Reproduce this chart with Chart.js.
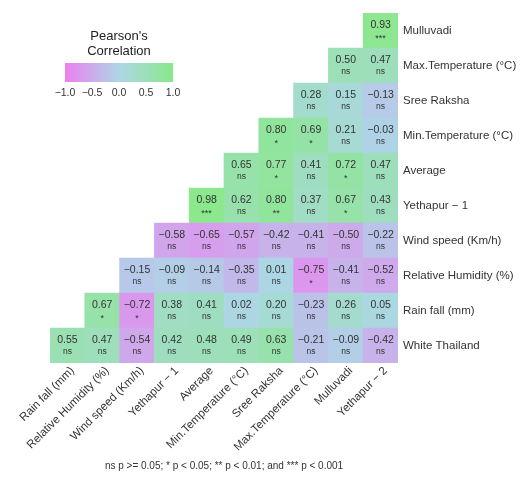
<!DOCTYPE html>
<html>
<head>
<meta charset="utf-8">
<script src="https://cdn.jsdelivr.net/npm/chart.js@4.4.0/dist/chart.umd.min.js"></script>
<style>
  body { margin: 0; background: #fff; font-family: "Liberation Sans", Arial, sans-serif; }
  #wrap { position: relative; width: 525px; height: 480px; }
  #legende { position: absolute; left: 0; top: 0; width: 240px; height: 110px; color: #222; }
  #legende .titre { position: absolute; left: 65px; width: 108px; top: 28px; text-align: center; font-size: 13px; line-height: 15px; }
  #legende .barre { position: absolute; left: 65px; top: 63px; width: 108px; height: 19px; }
  #legende .tick { position: absolute; top: 86px; font-size: 10.5px; transform: translateX(-50%); color: #333; }
</style>
</head>
<body>
<div id="wrap">
  <canvas id="myChart" width="525" height="480"></canvas>
  <div id="legende">
    <div class="titre">Pearson's<br>Correlation</div>
    <div class="barre" id="barre"></div>
  </div>
</div>
<script>
// colonnes (axe x) et lignes (axe y, du bas vers le haut)
var colonnes = ['Rain fall (mm)', 'Relative Humidity (%)', 'Wind speed (Km/h)', 'Yethapur \u2212 1', 'Average',
    'Min.Temperature (\u00b0C)', 'Sree Raksha', 'Max.Temperature (\u00b0C)', 'Mulluvadi', 'Yethapur \u2212 2'];
var lignes = ['White Thailand', 'Rain fall (mm)', 'Relative Humidity (%)', 'Wind speed (Km/h)', 'Yethapur \u2212 1',
    'Average', 'Min.Temperature (\u00b0C)', 'Sree Raksha', 'Max.Temperature (\u00b0C)', 'Mulluvadi'];

// valeurs de chaque ligne, a partir de la colonne d'indice = indice de ligne
var whiteThailand = [0.55, 0.47, -0.54, 0.42, 0.48, 0.49, 0.63, -0.21, -0.09, -0.42];
var rainFall      = [0.67, -0.72, 0.38, 0.41, 0.02, 0.20, -0.23, 0.26, 0.05];
var humidity      = [-0.15, -0.09, -0.14, -0.35, 0.01, -0.75, -0.41, -0.52];
var windSpeed     = [-0.58, -0.65, -0.57, -0.42, -0.41, -0.50, -0.22];
var yethapur1     = [0.98, 0.62, 0.80, 0.37, 0.67, 0.43];
var average       = [0.65, 0.77, 0.41, 0.72, 0.47];
var minTemp       = [0.80, 0.69, 0.21, -0.03];
var sreeRaksha    = [0.28, 0.15, -0.13];
var maxTemp       = [0.50, 0.47];
var mulluvadi     = [0.93];

var sigWhite   = ['ns', 'ns', 'ns', 'ns', 'ns', 'ns', 'ns', 'ns', 'ns', 'ns'];
var sigRain    = ['*', '*', 'ns', 'ns', 'ns', 'ns', 'ns', 'ns', 'ns'];
var sigHum     = ['ns', 'ns', 'ns', 'ns', 'ns', '*', 'ns', 'ns'];
var sigWind    = ['ns', 'ns', 'ns', 'ns', 'ns', 'ns', 'ns'];
var sigYeth1   = ['***', 'ns', '**', 'ns', '*', 'ns'];
var sigAverage = ['ns', '*', 'ns', '*', 'ns'];
var sigMinT    = ['*', '*', 'ns', 'ns'];
var sigSree    = ['ns', 'ns', 'ns'];
var sigMaxT    = ['ns', 'ns'];
var sigMullu   = ['***'];

var valeurs = [whiteThailand, rainFall, humidity, windSpeed, yethapur1, average, minTemp, sreeRaksha, maxTemp, mulluvadi];
var signif = [sigWhite, sigRain, sigHum, sigWind, sigYeth1, sigAverage, sigMinT, sigSree, sigMaxT, sigMullu];

var legendeTicks = [-1.0, -0.5, 0.0, 0.5, 1.0];
var footnote = 'ns p >= 0.05; * p < 0.05; ** p < 0.01; and *** p < 0.001';

var bas = [236, 128, 240];    // violet
var milieu = [173, 214, 230]; // lightblue
var haut = [138, 232, 138];   // lightgreen

function couleur(r) {
    var a = r < 0 ? bas : haut;
    var t = Math.abs(r);
    var c = [0, 1, 2].map(function (k) {
        return Math.round(milieu[k] + (a[k] - milieu[k]) * t);
    });
    return 'rgb(' + c.join(',') + ')';
}

function formater(v) {
    var s = v.toFixed(2);
    return v < 0 ? '\u2212' + s.slice(1) : s;
}

// une serie par ligne, barres flottantes [i-0.5, i+0.5]
var datasets = valeurs.map(function (vals, i) {
    var data = colonnes.map(function (c, j) {
        return j >= i ? [i - 0.5, i + 0.5] : null;
    });
    return {
        label: lignes[i],
        data: data,
        rVals: vals,
        sig: signif[i],
        debut: i,
        backgroundColor: colonnes.map(function (c, j) {
            return j >= i ? couleur(vals[j - i]) : 'transparent';
        }),
        borderWidth: 0,
        barPercentage: 1,
        categoryPercentage: 1,
        grouped: false
    };
});

var texteCellules = {
    id: 'texteCellules',
    afterDatasetsDraw: function (chart) {
        var ctx = chart.ctx;
        ctx.save();
        ctx.textAlign = 'center';
        ctx.textBaseline = 'middle';
        ctx.fillStyle = '#333';
        chart.data.datasets.forEach(function (ds, i) {
            var meta = chart.getDatasetMeta(i);
            meta.data.forEach(function (el, j) {
                if (j < ds.debut) return;
                var cy = (el.y + el.base) / 2;
                ctx.font = '10.5px "Liberation Sans", Arial, sans-serif';
                ctx.fillText(formater(ds.rVals[j - ds.debut]), el.x, cy - 5);
                var s = ds.sig[j - ds.debut];
                ctx.font = (s === 'ns' ? '8.5px' : '9px') + ' "Liberation Sans", Arial, sans-serif';
                ctx.fillText(s, el.x, s === 'ns' ? cy + 6 : cy + 8);
            });
        });
        ctx.restore();
    }
};

var myChart = new Chart(document.getElementById('myChart').getContext('2d'), {
    type: 'bar',
    data: { labels: colonnes, datasets: datasets },
    plugins: [texteCellules],
    options: {
        responsive: false,
        animation: false,
        layout: { padding: { left: 50, top: 13, right: 0, bottom: 4 } },
        plugins: {
            legend: { display: false },
            tooltip: { enabled: false },
            title: {
                display: true,
                position: 'bottom',
                fullSize: false,
                text: footnote,
                color: '#333',
                font: { size: 10, weight: 'normal', family: '"Liberation Sans", Arial, sans-serif' },
                padding: { top: 4, bottom: 4 }
            }
        },
        scales: {
            x: {
                grid: { display: false, drawTicks: false },
                border: { display: false },
                ticks: {
                    autoSkip: false,
                    minRotation: 45,
                    maxRotation: 45,
                    padding: 1,
                    labelOffset: 5,
                    color: '#333',
                    font: { size: 11.5, family: '"Liberation Sans", Arial, sans-serif' }
                },
                afterFit: function (scale) { scale.height = 93; }
            },
            y: {
                type: 'linear',
                position: 'right',
                min: -0.5,
                max: 9.5,
                grid: { display: false, drawTicks: false },
                border: { display: false },
                afterBuildTicks: function (scale) {
                    scale.ticks = lignes.map(function (l, i) { return { value: i }; });
                },
                ticks: {
                    padding: 5,
                    color: '#333',
                    font: { size: 11.5, family: '"Liberation Sans", Arial, sans-serif' },
                    callback: function (v) { return lignes[v]; }
                },
                afterFit: function (scale) { scale.width = 127; }
            }
        }
    }
});

// legende : barre de couleur
var stops = [];
for (var k = 0; k <= 20; k++) {
    var r = -1 + k / 10;
    stops.push(couleur(r) + ' ' + (k * 5) + '%');
}
var $barre = document.getElementById('barre');
$barre.style.background = 'linear-gradient(to right, ' + stops.join(', ') + ')';
var $legende = document.getElementById('legende');
legendeTicks.forEach(function (t) {
    var span = document.createElement('span');
    span.className = 'tick';
    span.textContent = t < 0 ? '\u2212' + Math.abs(t).toFixed(1) : t.toFixed(1);
    span.style.left = (65 + (t + 1) / 2 * 108) + 'px';
    $legende.appendChild(span);
});
</script>
</body>
</html>
